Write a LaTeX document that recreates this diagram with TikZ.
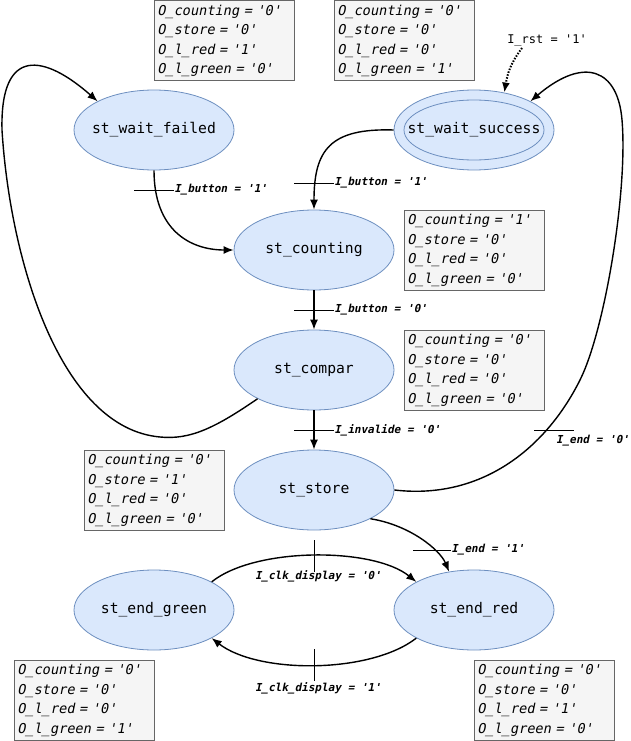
\documentclass[tikz,border=0pt]{standalone}
\usepackage{fontspec}
\setmonofont{DejaVu Sans Mono}
\newfontfamily\statefont{DejaVu Sans Mono}[Ligatures=TeXOff]
\newfontfamily\outfont{DejaVu Sans Mono}[Ligatures=TeXOff, FakeSlant=0.2]
\newfontfamily\condfont{DejaVu Sans Mono Bold}[Ligatures=TeXOff, FakeSlant=0.2]
\usepackage{tikz}
\usetikzlibrary{arrows.meta, positioning, calc, shapes.geometric}
\definecolor{statefill}{HTML}{DAE8FC}
\definecolor{stateline}{HTML}{6C8EBF}
\definecolor{boxfill}{HTML}{F5F5F5}
\definecolor{boxline}{HTML}{666666}
\tikzset{>={Latex[length=10pt,width=8pt]}}
\tikzset{
  state/.style={ellipse, draw=stateline, fill=statefill, line width=0.8pt,
    minimum width=160pt, minimum height=80pt, inner sep=0pt,
    font=\statefont\fontsize{14.7}{17}\selectfont},
  outbox/.style={rectangle, draw=boxline, fill=boxfill, line width=0.8pt,
    anchor=north west, minimum width=140pt, minimum height=80pt,
    text width=134pt, inner xsep=3pt, inner ysep=0pt, align=left,
    font=\outfont\fontsize{13.6}{19.5}\selectfont},
  trans/.style={->, line width=1.4pt},
  tick/.style={line width=0.7pt},
  cond/.style={inner sep=0pt, font=\condfont\fontsize{11}{13}\selectfont},
}
\newcommand{\stlabel}[1]{\makebox[0pt]{#1}}
\newcommand{\outs}[4]{O\_counting = '#1'\\O\_store = '#2'\\O\_l\_red = '#3'\\O\_l\_green = '#4'}
\begin{document}
\begin{tikzpicture}[x=1pt, y=-1pt]
        \useasboundingbox (0,0) rectangle (630,741);
        % states
        \node[state] (wfail) at (154,130) {\stlabel{st\_wait\_failed}};
        \node[state] (wsucc) at (474,130) {\stlabel{st\_wait\_success}};
        \draw[stateline, line width=0.8pt] (wsucc.center) ellipse (70 and 30);
        \node[state] (count) at (314,250) {\stlabel{st\_counting}};
        \node[state] (compar) at (314,370) {\stlabel{st\_compar}};
        \node[state] (store) at (314,490) {\stlabel{st\_store}};
        \node[state] (egreen) at (154,610) {\stlabel{st\_end\_green}};
        \node[state] (ered) at (474,610) {\stlabel{st\_end\_red}};
        % outputs
        \node[outbox] (ofail) at (154,0.5) {\outs{0}{0}{1}{0}};
        \node[outbox] (osucc) at (334,0.5) {\outs{0}{0}{0}{1}};
        \node[outbox] (ocount) at (404,210) {\outs{1}{0}{0}{0}};
        \node[outbox] (ocompar) at (404,330) {\outs{0}{0}{0}{0}};
        \node[outbox] (ostore) at (84,450) {\outs{0}{1}{0}{0}};
        \node[outbox] (ogreen) at (14,660) {\outs{0}{0}{0}{1}};
        \node[outbox] (ored) at (474,660) {\outs{0}{0}{1}{0}};
        % reset
        \node[font=\statefont\fontsize{12}{14}\selectfont, inner sep=1pt] (rst) at (547,41) {I\_rst = '1'};
        \draw[->, line width=2pt, dash pattern=on 1.5pt off 1.5pt] ([xshift=-25pt]rst.south)
          .. controls +(-12,16) and +(3,-18) .. (wsucc.51);
        % transitions
        \draw[trans] (wfail.south) .. controls (154,230) and (190,250) .. (count.west);
        \draw[trans] (wsucc.west) .. controls (330,128) and (314,150) .. (count.north);
        \draw[trans] (count) -- (compar);
        \draw[trans] (compar) -- (store);
        \draw[trans] (compar.207) .. controls (215,428) and (190,440) .. (160,437)
          .. controls (60,428) and (10,260) .. (2,130)
          .. controls (0,45) and (45,55) .. (wfail.153);
        \draw[trans] (store.east) .. controls (480,500) and (545,450) .. (580,380)
          .. controls (605,330) and (628,190) .. (622,120)
          .. controls (618,70) and (585,55) .. (wsucc.27);
        \draw[trans] (store.-27) .. controls (410,525) and (440,550) .. (ered.123);
        \draw[trans] (egreen.26) .. controls (255,547) and (373,547) .. (ered.154);
        \draw[trans] (ered.206) .. controls (370,674) and (258,674) .. (egreen.334);
        % conditions
        \draw[tick] (134,190) -- (174,190) node[cond, anchor=west] (c1) {I\_button = '1'};
        \draw[tick] (294,183) -- (334,183) node[cond, anchor=west] (c2) {I\_button = '1'};
        \draw[tick] (294,310) -- (334,310) node[cond, anchor=west] (c3) {I\_button = '0'};
        \draw[tick] (294,430) -- (334,430) node[cond, anchor=west] (c4) {I\_invalide = '0'};
        \draw[tick] (534,430) -- (574,430);
        \node[cond, anchor=west] (c5) at (556,441) {I\_end = '0'};
        \draw[tick] (413,550) -- (451,550) node[cond, anchor=west] (c6) {I\_end = '1'};
        \draw[tick] (314,540) -- (314,572);
        \node[cond] (c7) at (318,576) {I\_clk\_display = '0'};
        \draw[tick] (314,649) -- (314,681);
        \node[cond] (c8) at (318,688) {I\_clk\_display = '1'};
      \end{tikzpicture}
\end{document}
